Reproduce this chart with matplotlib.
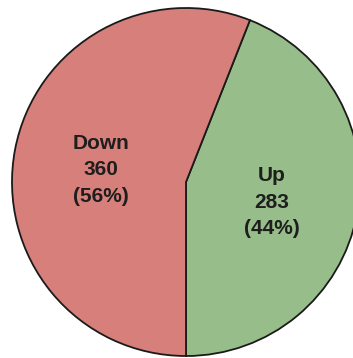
import matplotlib.pyplot as plt
from matplotlib.transforms import offset_copy

labels = ["Up", "Down"]
counts = [283, 360]
colors = ["#97BE8A", "#D77F7A"]

total = sum(counts)
texts = [f"{lab}\n{n}\n({100 * n / total:.0f}%)" for lab, n in zip(labels, counts)]

fig = plt.figure(figsize=(3.53, 3.58), dpi=100)
ax = fig.add_axes([0, 0, 1, 1])

wedges, lbls = ax.pie(counts, labels=texts, colors=colors, startangle=-90, counterclock=True,
                      radius=174, center=(0, 0), labeldistance=0.5, frame=False,
                      wedgeprops={"edgecolor": "#1a1a1a", "linewidth": 1.3},
                      textprops={"ha": "center", "va": "center", "fontsize": 15,
                                 "fontweight": "bold", "family": "Liberation Sans",
                                 "color": "#1e1e1e", "linespacing": 1.5})

# nudge the labels down a little
for t in lbls:
    t.set_transform(offset_copy(ax.transData, fig=fig, y=-4, units="dots"))

ax.set_xlim(-186, 167)
ax.set_ylim(-176, 182)
ax.set_aspect("equal")
ax.axis("off")

fig.savefig("out.png", dpi=100)
